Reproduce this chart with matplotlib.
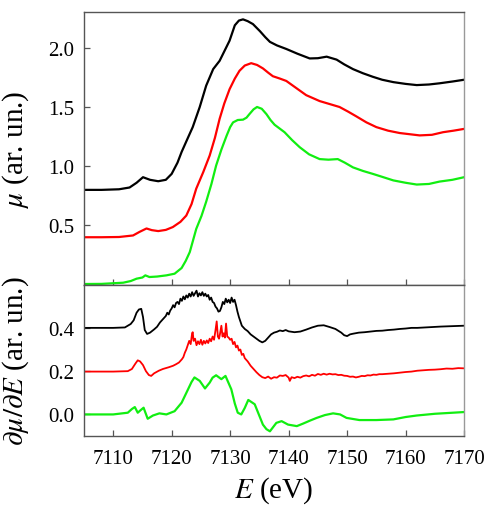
import matplotlib
matplotlib.use("Agg")
import matplotlib.pyplot as plt
from matplotlib.ticker import FormatStrFormatter

plt.rcParams['font.family'] = ['Liberation Serif', 'DejaVu Serif']
plt.rcParams['mathtext.fontset'] = 'stix'

# ---- top panel: absorption mu(E) ----
E_black = [7105, 7108, 7111, 7112.8, 7114, 7115.1, 7116.3, 7117.7, 7119, 7120, 7121, 7121.7, 7122.6,
           7123.6, 7124.8, 7125.9, 7127.1, 7128.2, 7129.0, 7129.9, 7130.8, 7131.5, 7132.2, 7133.0,
           7133.9, 7135.1, 7136.0, 7136.8, 7138.0, 7139.6, 7141.5, 7143.6, 7145.0, 7146.5, 7148.2,
           7149.5, 7151.0, 7152.7, 7154.4, 7156.0, 7157.9, 7160.0, 7161.9, 7164.0, 7165.8, 7168.0, 7170]
mu_black = [0.80, 0.80, 0.805, 0.82, 0.86, 0.907, 0.885, 0.873, 0.885, 0.935, 1.03, 1.12, 1.22,
            1.33, 1.50, 1.68, 1.82, 1.89, 1.97, 2.06, 2.19, 2.23, 2.24, 2.225,
            2.20, 2.14, 2.09, 2.05, 2.02, 1.99, 1.95, 1.91, 1.912, 1.925, 1.90,
            1.86, 1.82, 1.785, 1.755, 1.73, 1.71, 1.695, 1.685, 1.69, 1.70, 1.715, 1.73]

E_red = [7105, 7108, 7111, 7113.4, 7114.5, 7115.7, 7116.6, 7117.7, 7119, 7120.2, 7121.5, 7122.5,
         7123.4, 7124.2, 7125.4, 7126.5, 7127.4, 7128.2, 7129.0, 7129.9, 7130.8, 7131.6, 7132.5,
         7133.6, 7134.6, 7135.6, 7136.5, 7137.3, 7138.5, 7139.6, 7141.3, 7143.0, 7145.3, 7147.0,
         7148.7, 7150.2, 7151.6, 7153.3, 7155.0, 7157.0, 7159.0, 7162.4, 7164.5, 7166.4, 7168.2, 7170]
mu_red = [0.40, 0.40, 0.402, 0.415, 0.445, 0.474, 0.46, 0.452, 0.462, 0.486, 0.53, 0.583,
          0.68, 0.81, 0.95, 1.09, 1.24, 1.40, 1.53, 1.65, 1.74, 1.806, 1.85,
          1.87, 1.855, 1.826, 1.79, 1.76, 1.74, 1.72, 1.66, 1.60, 1.55, 1.525,
          1.50, 1.46, 1.42, 1.37, 1.33, 1.30, 1.28, 1.26, 1.265, 1.287, 1.30, 1.315]

E_green = [7105, 7108, 7111.7, 7113.0, 7114.0, 7115.0, 7115.5, 7116.2, 7117.5, 7119.1, 7120.5,
           7121.7, 7122.4, 7123.1, 7124.2, 7125.1, 7125.9, 7126.8, 7127.6, 7128.5, 7129.4, 7130.0,
           7130.5, 7131.3, 7132.2, 7132.8, 7133.3, 7134.0, 7134.6, 7135.4, 7136.2, 7136.9, 7137.6,
           7139.3, 7140.6, 7141.9, 7143.5, 7145.3, 7146.8, 7148.4, 7149.6, 7151.0, 7152.7, 7154.4,
           7156.0, 7157.9, 7160.0, 7161.9, 7164.0, 7165.8, 7168.0, 7170]
mu_green = [0.005, 0.006, 0.016, 0.03, 0.05, 0.06, 0.078, 0.064, 0.068, 0.078, 0.092,
            0.14, 0.20, 0.275, 0.47, 0.58, 0.70, 0.85, 1.005, 1.14, 1.258, 1.33,
            1.37, 1.39, 1.393, 1.41, 1.44, 1.48, 1.50, 1.485, 1.44, 1.39, 1.35,
            1.287, 1.22, 1.16, 1.10, 1.06, 1.055, 1.06, 1.03, 0.99, 0.96, 0.935,
            0.91, 0.88, 0.86, 0.845, 0.85, 0.87, 0.885, 0.907]

# ---- bottom panel: derivative dmu/dE ----
E_dblack = [7105, 7110, 7112, 7113, 7113.5, 7114, 7114.4, 7114.8, 7115.1, 7115.4, 7115.8, 7116.3,
            7117, 7117.5, 7118, 7118.5,
            7119.0, 7119.25, 7119.5, 7119.75, 7120.0, 7120.25, 7120.5, 7120.75, 7121.0, 7121.25,
            7121.5, 7121.75, 7122.0, 7122.25, 7122.5, 7122.75, 7123.0, 7123.25, 7123.5, 7123.75,
            7124.0, 7124.25, 7124.5, 7124.75, 7125.0, 7125.25, 7125.5, 7125.75, 7126.0, 7126.25,
            7126.5, 7126.75, 7127.0, 7127.25, 7127.5, 7127.75, 7128.0, 7128.25, 7128.5, 7128.75,
            7129.0, 7129.25, 7129.5, 7129.75, 7130.0, 7130.25, 7130.5, 7130.75, 7131.0, 7131.25,
            7131.5, 7131.75, 7132.0,
            7132.5, 7133, 7133.5, 7134, 7134.5, 7135, 7135.5, 7136, 7136.5, 7137, 7137.5, 7138,
            7138.5, 7139, 7139.5, 7140, 7141, 7142, 7143, 7144, 7145, 7146, 7147, 7148, 7149,
            7149.5, 7150, 7150.5, 7151, 7152, 7153, 7154, 7155, 7156, 7157, 7158, 7159, 7160,
            7161, 7162, 7164, 7166, 7168, 7170]
d_black = [0.40, 0.40, 0.402, 0.418, 0.435, 0.47, 0.485, 0.488, 0.45, 0.39, 0.372, 0.378,
           0.393, 0.405, 0.425, 0.44,
           0.455, 0.47, 0.462, 0.48, 0.49, 0.505, 0.495, 0.515, 0.52, 0.51,
           0.535, 0.525, 0.545, 0.532, 0.55, 0.54, 0.558, 0.545, 0.565, 0.548,
           0.56, 0.572, 0.545, 0.56, 0.55, 0.565, 0.548, 0.558, 0.545, 0.552,
           0.53, 0.54, 0.52, 0.515, 0.498, 0.49, 0.475, 0.478, 0.495, 0.52,
           0.51, 0.535, 0.518, 0.53, 0.515, 0.54, 0.52, 0.53, 0.505, 0.475,
           0.45, 0.43, 0.41,
           0.395, 0.385, 0.37, 0.36, 0.35, 0.34, 0.333, 0.34, 0.355, 0.37, 0.378, 0.382,
           0.388, 0.385, 0.39, 0.384, 0.38, 0.383, 0.392, 0.402, 0.41, 0.412, 0.404, 0.395, 0.378,
           0.366, 0.362, 0.37, 0.373, 0.378, 0.38, 0.383, 0.386, 0.387, 0.39, 0.392, 0.395, 0.397,
           0.40, 0.40, 0.403, 0.406, 0.408, 0.41]

E_dred = [7105, 7110, 7112.5, 7113.2, 7113.8, 7114.2, 7114.6, 7115.1, 7115.6, 7116.1, 7116.5,
          7117, 7117.8, 7118.5, 7119.5, 7120.25, 7120.75, 7121.25, 7121.75, 7122.0, 7122.25,
          7122.5, 7122.75, 7123.0, 7123.25, 7123.5, 7123.6, 7123.75, 7124.0, 7124.25, 7124.5,
          7124.75, 7125.0, 7125.25, 7125.5, 7125.75, 7126.0, 7126.25, 7126.5, 7126.75, 7127.0,
          7127.25, 7127.5, 7127.7, 7127.9, 7128.1, 7128.25, 7128.5, 7128.7, 7128.9, 7129.1,
          7129.3, 7129.5, 7129.75, 7130.0, 7130.25, 7130.5, 7130.75, 7131.0, 7131.25, 7131.5,
          7131.75, 7132.0, 7132.25, 7132.5, 7133, 7133.5, 7134, 7134.5, 7135, 7135.5, 7136,
          7136.5, 7137, 7137.5, 7138, 7138.5, 7139, 7139.5, 7140, 7140.2, 7140.5, 7141, 7141.5,
          7142, 7142.5, 7143, 7143.5, 7144, 7144.5, 7145, 7145.5, 7146, 7146.5, 7147, 7147.5,
          7148, 7148.5, 7149, 7149.5, 7150, 7150.5, 7151, 7151.5, 7152, 7152.5, 7153, 7153.5,
          7154, 7154.5, 7155, 7155.5, 7156, 7157, 7158, 7159, 7160, 7161, 7162, 7163, 7164,
          7165, 7166, 7167, 7168, 7169, 7170]
d_red = [0.198, 0.198, 0.20, 0.21, 0.235, 0.25, 0.245, 0.228, 0.20, 0.182, 0.178,
         0.19, 0.202, 0.21, 0.218, 0.225, 0.232, 0.24, 0.255, 0.265, 0.285,
         0.30, 0.32, 0.34, 0.325, 0.375, 0.38, 0.34, 0.35, 0.32, 0.338,
         0.325, 0.345, 0.322, 0.34, 0.328, 0.342, 0.33, 0.35, 0.338, 0.36,
         0.345, 0.39, 0.43, 0.36, 0.35, 0.37, 0.41, 0.36, 0.375, 0.355,
         0.42, 0.36, 0.355, 0.345, 0.35, 0.325, 0.335, 0.31, 0.318, 0.295,
         0.30, 0.275, 0.28, 0.26, 0.245, 0.225, 0.21, 0.195, 0.182, 0.172, 0.168,
         0.175, 0.165, 0.172, 0.17, 0.18, 0.178, 0.182, 0.17, 0.155, 0.172, 0.168, 0.174,
         0.170, 0.177, 0.18, 0.176, 0.183, 0.179, 0.187, 0.183, 0.188, 0.184, 0.188, 0.185,
         0.186, 0.182, 0.183, 0.179, 0.178, 0.174, 0.175, 0.171, 0.174, 0.178, 0.177, 0.181,
         0.18, 0.184, 0.183, 0.186, 0.186, 0.188, 0.19, 0.193, 0.196, 0.198, 0.202, 0.204, 0.206,
         0.207, 0.209, 0.212, 0.211, 0.214, 0.213]

E_dgreen = [7105, 7110, 7112.5, 7113.2, 7113.7, 7114.2, 7114.7, 7115.2, 7115.9, 7116.8, 7117.9,
            7119.1, 7120.5, 7121.7, 7122.8, 7123.4, 7123.9, 7124.8, 7125.7, 7126.5, 7127.0, 7127.6,
            7128.5, 7129.2, 7130.2, 7130.8, 7131.3, 7131.9, 7132.5, 7133.1, 7134.2, 7134.9,
            7135.6, 7136.2, 7136.8, 7137.9, 7138.8, 7139.9, 7141.4, 7142.5, 7143.7, 7144.8,
            7146.2, 7147.6, 7148.8, 7149.9, 7152.1, 7155.0, 7157.9, 7160.0, 7161.9, 7165.0, 7170]
d_green = [0.0, 0.0, 0.008, 0.025, 0.034, 0.008, 0.02, 0.031, -0.02, -0.005, 0.005,
           0.0, 0.015, 0.054, 0.116, 0.15, 0.171, 0.155, 0.12, 0.147, 0.17, 0.181,
           0.163, 0.178, 0.116, 0.05, 0.008, 0.0, 0.03, 0.067, 0.047, 0.0,
           -0.047, -0.068, -0.078, -0.039, -0.031, -0.047, -0.054, -0.042, -0.028, -0.016,
           -0.003, 0.005, 0.0, -0.016, -0.026, -0.026, -0.023, -0.012, -0.005, 0.003, 0.011]

GREEN = '#11ee11'
SPINE = '#555555'

fig = plt.figure(figsize=(4.88, 5.10), dpi=100)
ax1 = fig.add_axes([0.172, 0.440, 0.779, 0.534])
ax2 = fig.add_axes([0.172, 0.143, 0.779, 0.297])

ax1.plot(E_black, mu_black, color='black', lw=1.6)
ax1.plot(E_red, mu_red, color='red', lw=1.6)
ax1.plot(E_green, mu_green, color=GREEN, lw=1.6)

ax2.plot(E_dblack, d_black, color='black', lw=1.3)
ax2.plot(E_dred, d_red, color='red', lw=1.3)
ax2.plot(E_dgreen, d_green, color=GREEN, lw=1.6)

xticks = [7110, 7120, 7130, 7140, 7150, 7160, 7170]
for ax in (ax1, ax2):
    ax.set_xlim(7105, 7170)
    ax.set_xticks(xticks)
    ax.tick_params(direction='in', length=4, width=0.9, color=SPINE,
                   labelsize=15, top=False, right=False)
    ax.tick_params(axis='x', pad=9)
    ax.tick_params(axis='y', pad=7)
    for s in ax.spines.values():
        s.set_color(SPINE)
        s.set_linewidth(1.0)
    ax.spines['right'].set_color('#999999')

ax1.set_ylim(0, 2.3)
ax1.set_yticks([0.5, 1.0, 1.5, 2.0])
ax1.yaxis.set_major_formatter(FormatStrFormatter('%.1f'))
ax1.tick_params(axis='x', labelbottom=False)

ax2.set_ylim(-0.1, 0.6)
ax2.set_yticks([0.0, 0.2, 0.4])
ax2.yaxis.set_major_formatter(FormatStrFormatter('%.1f'))

ax1.set_ylabel(r'$\mu$ (ar. un.)', fontsize=21)
ax2.set_ylabel(r'$\partial\mu/\partial E$ (ar. un.)', fontsize=21)
ax2.set_xlabel(r'$E$ (eV)', fontsize=21, labelpad=5)
ax1.yaxis.set_label_coords(-0.14, 0.5)
ax2.yaxis.set_label_coords(-0.14, 0.5)

fig.savefig('out.png', dpi=100)
